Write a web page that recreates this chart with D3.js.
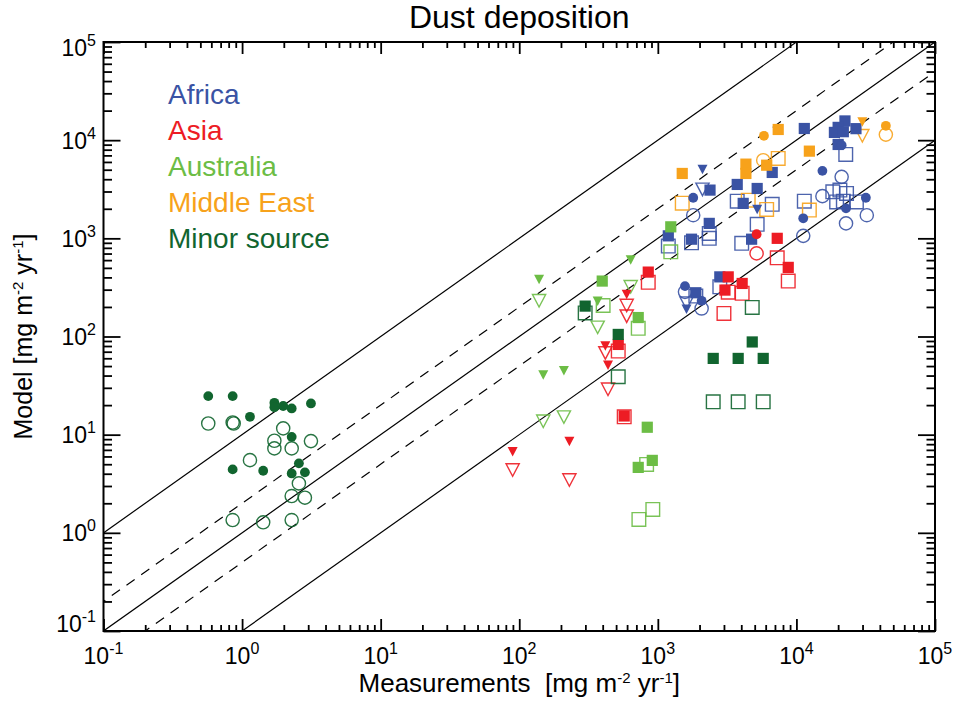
<!DOCTYPE html>
<html>
<head>
<meta charset="utf-8">
<script src="https://cdn.jsdelivr.net/npm/d3@7"></script>
<style>
  body { margin: 0; background: #fff; }
  svg { display: block; font-family: "Liberation Sans", Arial, Helvetica, sans-serif; }
</style>
</head>
<body>
<svg id="chart" width="955" height="704"></svg>
<script>
// Measured vs. modelled dust deposition [mg m-2 yr-1], grouped by source region.
// Each row: [measurement, model, marker]
// marker: S/s = filled/open square, C/c = filled/open circle, T/t = filled/open down-triangle
const africa = [
  [11400, 13150, "S"], [22400, 15700, "S"], [20000, 13500, "S"], [18800, 12000, "S"],
  [21800, 12200, "S"], [26900, 13100, "S"], [20000, 9040, "S"], [6690, 4690, "S"],
  [2380, 3100, "S"], [3740, 3540, "S"], [5210, 3220, "S"], [4130, 2270, "S"],
  [2350, 1420, "S"], [1750, 980, "S"], [4750, 980, "S"], [1190, 1060, "S"],
  [2800, 405, "S"], [1880, 279, "S"],
  [22700, 7150, "s"], [3740, 2390, "s"], [6690, 2220, "s"], [5210, 1390, "s"],
  [11400, 2390, "s"], [18300, 2980, "s"], [20600, 3100, "s"], [23000, 2870, "s"],
  [19500, 2350, "s"], [21800, 2390, "s"], [27100, 2350, "s"], [2350, 1120, "s"],
  [2350, 1000, "s"], [1750, 900, "s"], [4030, 890, "s"], [1190, 833, "s"],
  [2800, 321, "s"], [1880, 258, "s"],
  [21200, 8890, "C"], [15400, 4870, "C"], [1800, 2590, "C"], [31700, 2590, "C"],
  [11200, 1600, "C"], [22800, 2020, "C"], [1570, 326, "C"], [2070, 231, "C"],
  [21200, 4230, "c"], [1800, 1720, "c"], [15400, 2690, "c"], [32200, 1720, "c"],
  [11200, 1060, "c"], [22800, 1420, "c"], [1570, 285, "c"], [2070, 193, "c"],
  [2100, 5030, "T"], [5210, 1970, "T"], [1610, 190, "T"],
  [2100, 3150, "t"], [1610, 219, "t"]
];
const asia = [
  [853, 453, "S"], [518, 83, "S"], [572, 15.5, "S"], [7270, 1000, "S"],
  [8730, 506, "S"], [3220, 405, "S"], [4060, 347, "S"], [3050, 297, "S"],
  [853, 356, "s"], [518, 71, "s"], [572, 15.2, "s"], [7270, 633, "s"],
  [8730, 367, "s"], [3220, 283, "s"], [4060, 275, "s"], [3000, 172, "s"],
  [596, 268, "T"], [418, 80, "T"], [437, 51, "T"], [89.6, 6.7, "T"], [230, 8.5, "T"],
  [596, 207, "t"], [596, 161, "t"], [418, 68, "t"], [437, 29, "t"], [89.6, 4.36, "t"], [230, 3.45, "t"],
  [5160, 1100, "C"], [5160, 702, "c"]
];
const australia = [
  [397, 367, "S"], [722, 156, "S"], [1240, 1310, "S"], [839, 11.9, "S"], [722, 4.64, "S"], [912, 5.47, "S"],
  [403, 207, "s"], [722, 121, "s"], [1240, 729, "s"], [830, 4.98, "s"], [730, 1.37, "s"], [920, 1.73, "s"],
  [139, 381, "T"], [637, 600, "T"], [368, 229, "T"], [149, 40.5, "T"], [210, 44.8, "T"],
  [139, 231, "t"], [637, 321, "t"], [368, 124, "t"], [149, 13.7, "t"], [210, 15.1, "t"]
];
const middleEast = [
  [5830, 11070, "C"], [44200, 14000, "C"],
  [5760, 6250, "c"], [44200, 11400, "c"],
  [7390, 12850, "S"], [12400, 7730, "S"], [4320, 5700, "S"], [6100, 5560, "S"], [4320, 4580, "S"], [1500, 4580, "S"],
  [7390, 6510, "s"], [1500, 2280, "s"], [4490, 2450, "s"], [6100, 1970, "s"], [12400, 1940, "s"],
  [29900, 15350, "T"], [29900, 11100, "t"]
];
const minorSource = [
  [0.57, 24.7, "C"], [0.855, 24.7, "C"], [1.71, 21.1, "C"], [1.71, 19.0, "C"], [1.98, 19.6, "C"],
  [2.28, 18.5, "C"], [3.14, 20.8, "C"], [1.14, 15.2, "C"], [2.28, 9.5, "C"], [0.855, 4.43, "C"],
  [1.42, 4.29, "C"], [2.57, 5.1, "C"], [2.28, 4.03, "C"], [2.84, 4.13, "C"],
  [0.57, 13.0, "c"], [0.855, 13.3, "c"], [0.87, 13.0, "c"], [1.98, 11.6, "c"], [1.71, 8.67, "c"],
  [1.71, 7.25, "c"], [2.28, 7.25, "c"], [3.14, 8.6, "c"], [1.14, 5.5, "c"], [2.57, 3.19, "c"],
  [2.28, 2.37, "c"], [2.84, 2.28, "c"], [0.855, 1.35, "c"], [1.42, 1.28, "c"], [2.28, 1.35, "c"],
  [299, 204, "S"], [518, 105, "S"], [4800, 88, "S"], [2510, 59.8, "S"], [3800, 59.8, "S"], [5760, 59.8, "S"],
  [299, 174, "s"], [518, 38.9, "s"], [4800, 198, "s"], [2510, 21.6, "s"], [3800, 21.6, "s"], [5760, 21.6, "s"]
];

const regionNames = ["Africa", "Asia", "Australia", "Middle East", "Minor source"];
const regionData = [africa, asia, australia, middleEast, minorSource];
const regionColors = ["#3a53a4", "#ed1c24", "#6cbd45", "#f7a21b", "#11652f"];

// Model/measurement ratio guide lines (solid: 10, 1, 0.1; dashed: 2, 0.5)
const guideRatios = [10, 2, 1, 0.5, 0.1];
const guideDashed = [false, true, false, true, false];

const decadeExponents = [-1, 0, 1, 2, 3, 4, 5];

const chartTitle = "Dust deposition";

(function draw() {
  const svg = d3.select("#chart");
  const pLeft = 103.5, pRight = 935, pTop = 42, pBottom = 631;

  const x = d3.scaleLog().domain([0.1, 1e5]).range([pLeft, pRight]);
  const y = d3.scaleLog().domain([0.1, 1e5]).range([pBottom, pTop]);

  const majors = decadeExponents.map(e => Math.pow(10, e));
  const minors = [];
  decadeExponents.slice(0, -1).forEach(e => {
    for (let m = 2; m <= 9; m++) minors.push(m * Math.pow(10, e));
  });

  svg.append("defs").append("clipPath").attr("id", "plotClip")
    .append("rect").attr("x", pLeft).attr("y", pTop)
    .attr("width", pRight - pLeft).attr("height", pBottom - pTop);

  // ---- guide lines ----
  const guideLine = d3.line().x(d => x(d[0])).y(d => y(d[1]));
  const guides = svg.append("g").attr("clip-path", "url(#plotClip)");
  guideRatios.forEach((r, i) => {
    const pts = [[0.01, 0.01 * r], [1e6, 1e6 * r]];
    guides.append("path")
      .attr("d", guideLine(pts))
      .attr("fill", "none")
      .attr("stroke", "#000")
      .attr("stroke-width", 1.2)
      .attr("stroke-dasharray", guideDashed[i] ? "10,8" : null);
  });

  // ---- markers ----
  function markerPath(code) {
    switch (code.toLowerCase()) {
      case "s": {
        const h = code === "S" ? 5.6 : 6.8;
        return `M${-h},${-h}H${h}V${h}H${-h}Z`;
      }
      case "c": {
        const r = code === "C" ? 4.9 : 6.6;
        return `M${r},0A${r},${r} 0 1,1 ${-r},0A${r},${r} 0 1,1 ${r},0Z`;
      }
      case "t": {
        const w = code === "T" ? 5 : 6.6, h = code === "T" ? 9.5 : 12.5;
        return `M${-w},${-h / 2}H${w}L0,${h / 2}Z`;
      }
    }
  }

  const points = [];
  regionData.forEach((rows, ri) => rows.forEach(r => points.push({ mx: r[0], my: r[1], code: r[2], region: ri })));
  const isFilled = d => d.code === d.code.toUpperCase();

  const markers = svg.append("g");
  // open markers underneath, filled markers on top
  [points.filter(d => !isFilled(d)), points.filter(isFilled)].forEach(set => {
    markers.append("g").selectAll("path")
      .data(set)
      .join("path")
      .attr("transform", d => `translate(${x(d.mx)},${y(d.my)})`)
      .attr("d", d => markerPath(d.code))
      .attr("fill", d => isFilled(d) ? regionColors[d.region] : "none")
      .attr("stroke", d => isFilled(d) ? "none" : regionColors[d.region])
      .attr("stroke-opacity", 0.9)
      .attr("stroke-width", 1.4);
  });

  // ---- axes (inward ticks on all four sides) ----
  function tickAxis(gen, tx, ty, vals, size) {
    svg.append("g")
      .attr("transform", `translate(${tx},${ty})`)
      .call(gen.tickValues(vals).tickSize(-size).tickFormat(""))
      .call(g => g.select(".domain").remove())
      .call(g => g.selectAll("line").attr("stroke", "#000").attr("stroke-width", 1.8));
  }
  tickAxis(d3.axisBottom(x), 0, pBottom, majors, 12);
  tickAxis(d3.axisBottom(x), 0, pBottom, minors, 6);
  tickAxis(d3.axisTop(x), 0, pTop, majors, 12);
  tickAxis(d3.axisTop(x), 0, pTop, minors, 6);
  tickAxis(d3.axisLeft(y), pLeft, 0, majors, 17);
  tickAxis(d3.axisLeft(y), pLeft, 0, minors, 8.5);
  tickAxis(d3.axisRight(y), pRight, 0, majors, 17);
  tickAxis(d3.axisRight(y), pRight, 0, minors, 8.5);

  svg.append("rect")
    .attr("x", pLeft).attr("y", pTop)
    .attr("width", pRight - pLeft).attr("height", pBottom - pTop)
    .attr("fill", "none").attr("stroke", "#000").attr("stroke-width", 2);

  // ---- tick labels ----
  function powerLabel(sel, e) {
    sel.append("tspan").text("10");
    sel.append("tspan").attr("dy", -10).attr("font-size", 16).text(e);
  }
  decadeExponents.forEach(e => {
    const v = Math.pow(10, e);
    svg.append("text")
      .attr("x", x(v)).attr("y", 664)
      .attr("text-anchor", "middle")
      .attr("font-size", 23)
      .call(powerLabel, e);
    const yy = Math.max(56, Math.min(632, y(v) + 8.5));
    svg.append("text")
      .attr("x", 96).attr("y", yy)
      .attr("text-anchor", "end")
      .attr("font-size", 23)
      .call(powerLabel, e);
  });

  // ---- axis titles ----
  function unitsLabel(sel, lead) {
    sel.append("tspan").text(lead + "[mg m");
    sel.append("tspan").attr("dy", -9).attr("font-size", 15).text("-2");
    sel.append("tspan").attr("dy", 9).text(" yr");
    sel.append("tspan").attr("dy", -9).attr("font-size", 15).text("-1");
    sel.append("tspan").attr("dy", 9).text("]");
  }
  svg.append("text")
    .attr("x", (pLeft + pRight) / 2).attr("y", 692)
    .attr("text-anchor", "middle")
    .attr("font-size", 26)
    .style("white-space", "pre")
    .call(unitsLabel, "Measurements  ");
  svg.append("text")
    .attr("transform", `translate(32,${(pTop + pBottom) / 2}) rotate(-90)`)
    .attr("text-anchor", "middle")
    .attr("font-size", 25)
    .style("white-space", "pre")
    .call(unitsLabel, "Model ");

  svg.append("text")
    .attr("x", (pLeft + pRight) / 2).attr("y", 28)
    .attr("text-anchor", "middle")
    .attr("font-size", 32)
    .text(chartTitle);

  // ---- legend ----
  regionNames.forEach((name, i) => {
    svg.append("text")
      .attr("x", 168).attr("y", 104 + i * 36)
      .attr("font-size", 28)
      .attr("fill", regionColors[i])
      .text(name);
  });
})();
</script>
</body>
</html>
